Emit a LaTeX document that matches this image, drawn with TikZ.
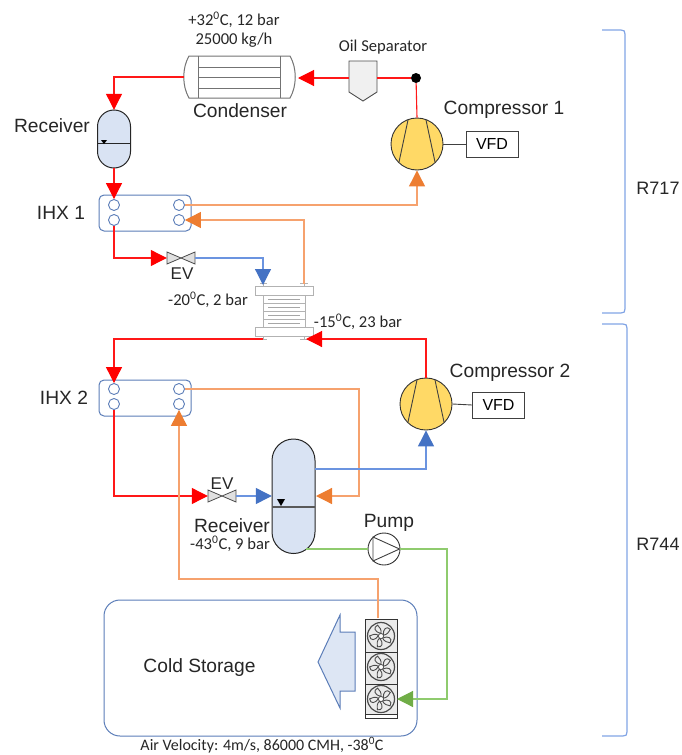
\documentclass[tikz,border=0pt]{standalone}
\usepackage{fontspec}
\setmainfont{Liberation Sans}
\newfontfamily\calfont{Carlito}
\usetikzlibrary{arrows.meta,calc}
\definecolor{redl}{HTML}{FF1818}
\definecolor{orl}{HTML}{F6A26E}
\definecolor{ora}{HTML}{ED7D31}
\definecolor{blul}{HTML}{6B94E0}
\definecolor{blua}{HTML}{4472C4}
\definecolor{grl}{HTML}{8FCB6E}
\definecolor{gra}{HTML}{70AD47}
\definecolor{tank}{HTML}{D9E3F3}
\definecolor{comp}{HTML}{FFD966}
\definecolor{hxb}{HTML}{5B7DB8}
\tikzset{
 x=1pt,y=-1pt,
 redpipe/.style={draw=redl,line width=1.1pt},
 orpipe/.style={draw=orl,line width=1.2pt},
 blupipe/.style={draw=blul,line width=1.2pt},
 grpipe/.style={draw=grl,line width=1.2pt},
 tipred/.style={-{Triangle[length=16pt,width=16pt,color=red]}},
 tipor/.style={-{Triangle[length=16pt,width=16pt,color=ora]}},
 tipblu/.style={-{Triangle[length=16pt,width=16pt,color=blua]}},
 tipgr/.style={-{Triangle[length=16pt,width=16pt,color=gra]}},
 lab/.style={font=\fontsize{19.2}{21}\selectfont,text=black!85,inner sep=0pt},
 small/.style={font=\calfont\fontsize{16.6}{18}\selectfont,text=black!85,inner sep=0pt},
 vfdbox/.style={draw=black!75,line width=0.9pt,fill=white,minimum width=52pt,minimum height=26pt,inner sep=0pt,font=\fontsize{16}{18}\selectfont},
 port/.style={circle,draw=hxb,line width=0.9pt,fill=white,minimum size=11pt,inner sep=0pt},
 ihx/.style={draw=hxb,line width=1pt,rounded corners=5pt,fill=white,minimum width=92pt,minimum height=36pt,inner sep=0pt},
 compbody/.style={circle,draw=black!80,line width=0.9pt,fill=comp,minimum size=52pt,inner sep=0pt},
 evbody/.style={draw=black!70,fill=black!12,line width=0.8pt},
 tankbody/.style={draw=black!85,line width=1pt,fill=tank},
 bracket/.style={draw=blul!85,line width=1.2pt},
}
\newcommand{\compblades}[1]{%
 \draw[black!75,line width=0.9pt] ($(#1)+(-9,-24)$) -- ($(#1)+(-18,18)$) ($(#1)+(9,-24)$) -- ($(#1)+(18,18)$);}
\newcommand{\fanicon}[2]{%
 \begin{scope}[shift={(#1,#2)}]
 \draw[black!70,line width=1.2pt] (0,0) circle (13.5);
 \foreach \a in {20,92,164,236,308}{
  \draw[black!70,line width=0.9pt,rotate=\a] (2.5,0) .. controls (4,-6) and (9,-8) .. (11,-3) .. controls (9,-1) and (6,1) .. (2.5,0);
 }
 \draw[black!70,line width=0.8pt,fill=white] (0,0) circle (2.6);
 \end{scope}}
\begin{document}
\begin{tikzpicture}
\useasboundingbox (0,0) rectangle (681,755);
% Cold storage
\node[draw=hxb,line width=1pt,rounded corners=16pt,minimum width=313pt,minimum height=136pt,inner sep=0pt] (store) at (260.5,668) {};
\node[lab] (storelab) at (199.5,667.5) {Cold Storage};
\draw[draw=hxb,fill=blua!18,line width=1pt] (318,662) -- (340,615) -- (340,632) -- (355,632) -- (355,691) -- (340,691) -- (340,708) -- cycle;
% fan bank
\node[draw=black!80,line width=1pt,fill=white,minimum width=32pt,minimum height=99pt,inner sep=0pt] (fans) at (381,668.5) {};
\fill[black!8] (365.5,619.5) rectangle (396.5,714);
\draw[black!80,line width=1pt] (365,652) -- (397,652) (365,684) -- (397,684) (365,714) -- (397,714);
\fanicon{381}{636}\fanicon{381}{667}\fanicon{381}{699}
\coordinate (fantop) at (378,618);
\coordinate (fanin) at (397,699);
% Condenser
\node[minimum width=111pt,minimum height=42pt,inner sep=0pt] (cond) at (239.5,77) {};
\draw[black!55,line width=1pt,fill=white] (189,56) -- (290,56) .. controls (297,68) and (297,86) .. (290,98) -- (189,98) .. controls (182,86) and (182,68) .. (189,56) -- cycle;
\draw[black!55,line width=1pt] (198,56) -- (198,98) (280,56) -- (280,98) (198,67) -- (280,67) (198,77) -- (280,77) (198,88) -- (280,88);
% Oil separator
\node[minimum width=28pt,minimum height=40pt,inner sep=0pt] (oil) at (363,81) {};
\draw[black!70,line width=0.9pt,fill=black!6] (349,61) -- (377,61) -- (377,92) -- (363,101) -- (349,92) -- cycle;
\coordinate (oilw) at (349,78);
\coordinate (oile) at (377,78);
\node[circle,fill=black,minimum size=10pt,inner sep=0pt] (dot) at (416,78) {};
% Compressor 1
\node[compbody] (c1) at (417,144) {};
\compblades{c1}
\node[vfdbox] (v1) at (492,144) {VFD};
\draw[black!75,line width=0.9pt] (c1.east) -- (v1.west);
% Receiver 1
\node[minimum width=33pt,minimum height=58pt,inner sep=0pt] (r1) at (114,139) {};
\draw[tankbody] (97.5,126.5) arc (180:360:16.5) -- (130.5,151.5) arc (0:180:16.5) -- cycle;
\draw[black!85,line width=0.9pt] (97.5,143) -- (130.5,143);
\fill[black] (101,140) -- (107,140) -- (104,144) -- cycle;
% IHX 1
\node[ihx] (h1) at (145,213) {};
\node[port] (h1a) at (114,205) {};
\node[port] (h1b) at (114,220) {};
\node[port] (h1c) at (179,205) {};
\node[port] (h1d) at (179,220) {};
% Valve 1
\node[minimum width=28pt,minimum height=12pt,inner sep=0pt] (ev1) at (181,258) {};
\draw[evbody] (167,252) -- (195,264) -- (195,252) -- (167,264) -- cycle;
% Plate HX
\node[minimum width=58pt,minimum height=50pt,inner sep=0pt] (phx) at (284,311) {};
\draw[black!30,line width=1pt,fill=white] (263,295) rectangle (305,327);
\draw[black!30,line width=0.8pt] (263,303) -- (305,303) (263,311) -- (305,311) (263,319) -- (305,319);
\draw[black!35,line width=1pt] (268,299) -- (300,299) (268,307) -- (300,307) (268,315) -- (300,315) (268,323) -- (300,323);
\draw[black!30,line width=1pt,fill=white] (255,286) rectangle (313,295);
\draw[black!30,line width=1pt,fill=white] (255,327) rectangle (313,336);
\draw[black!30,line width=1pt] (260,283) -- (267,283) (300,283) -- (308,283) (260,339) -- (267,339) (300,339) -- (308,339);
\draw[black!30,line width=1pt] (263,283) -- (263,286) (304,283) -- (304,286) (263,336) -- (263,339) (304,336) -- (304,339);
\coordinate (phxa) at (263,285);
\coordinate (phxb) at (304,284);
\coordinate (phxc) at (306,339);
\coordinate (phxd) at (263,339);
% Compressor 2
\node[compbody] (c2) at (426,404) {};
\compblades{c2}
\node[vfdbox] (v2) at (498.5,405) {VFD};
\draw[black!75,line width=0.9pt] (c2.east) -- (v2.west);
% IHX 2
\node[ihx] (h2) at (145,398) {};
\node[port] (h2a) at (114,389) {};
\node[port] (h2b) at (114,404) {};
\node[port] (h2c) at (179,389) {};
\node[port] (h2d) at (179,404) {};
% Valve 2
\node[minimum width=28pt,minimum height=12pt,inner sep=0pt] (ev2) at (222,496) {};
\draw[evbody] (208,490) -- (236,502) -- (236,490) -- (208,502) -- cycle;
% Receiver 2
\node[minimum width=43pt,minimum height=115pt,inner sep=0pt] (r2) at (293.5,496) {};
\draw[tankbody] (272,460.5) arc (180:360:21.5) -- (315,532) arc (0:180:21.5) -- cycle;
\draw[black!65,line width=1.3pt] (272,507) -- (315,507);
\fill[black] (277,499) -- (285,499) -- (281,506) -- cycle;
\coordinate (r2blue) at (315,469);
\coordinate (r2or) at (316,496);
\coordinate (r2gr) at (306,549);
% Pump
\node[circle,draw=black!80,line width=0.9pt,fill=white,minimum size=32pt,inner sep=0pt] (pump) at (384,549) {};
\draw[black!75,line width=0.9pt] (373,537) -- (399.5,549) -- (373,561) -- cycle;
% Connectors
\draw[redpipe] (oile) -- (dot);
\draw[redpipe] (c1.north) -- (dot);
\draw[redpipe,tipred] (oilw) -- (298,78);
\draw[redpipe,tipred] (cond.west) -- ++(-3,0) -| (r1.north);
\draw[redpipe,tipred] (r1.south) -- (h1a.north);
\draw[redpipe,tipred] (h1b.south) |- (ev1.west);
\draw[blupipe,tipblu] (ev1.east) -| (phxa);
\draw[orpipe,tipor] (h1c.east) -| (c1.south);
\draw[orpipe,tipor] (phxb) |- (h1d.east);
\draw[redpipe,tipred] (c2.north) |- (phxc);
\draw[redpipe,tipred] (phxd) -| (h2a.north);
\draw[redpipe,tipred] (h2b.south) |- (ev2.west);
\draw[blupipe,tipblu] (ev2.east) -- (r2.west);
\draw[orpipe,tipor] (h2c.east) -- (359,389) -- (359,496) -- (r2or);
\draw[blupipe,tipblu] (r2blue) -| (c2.south);
\draw[orpipe,tipor] (fantop) -- (378,579) -| (h2d.south);
\draw[grpipe] (r2gr) -- (pump.west);
\draw[grpipe,tipgr] (pump.east) -- (447,549) |- (fanin);
% Brackets
\coordinate (b1a) at (602,30);
\coordinate (b1b) at (602,313);
\coordinate (b2a) at (602,324);
\coordinate (b2b) at (602,736);
\draw[bracket] (b1a) -- (621,30) .. controls (624,30) and (625,31) .. (625,34) -- (625,309) .. controls (625,312) and (624,313) .. (621,313) -- (b1b);
\draw[bracket] (b2a) -- (623,324) .. controls (626,324) and (627,325) .. (627,328) -- (627,732) .. controls (627,735) and (626,736) .. (623,736) -- (b2b);
% Labels
\node[small] (t1) at (234,20) {+32\textsuperscript{0}C, 12 bar};
\node[small] (t2) at (234,40) {25000 kg/h};
\node[lab] (t3) at (240,111) {Condenser};
\node[small] (t4) at (383,47) {Oil Separator};
\node[lab] (t5) at (504,109.5) {Compressor 1};
\node[lab] (t6) at (52,125.5) {Receiver};
\node[lab] (t7) at (61,213) {IHX 1};
\node[lab,font=\fontsize{17}{19}\selectfont] (t8) at (182,274) {EV};
\node[small] (t9) at (208,300) {-20\textsuperscript{0}C, 2 bar};
\node[small] (t10) at (358,322) {-15\textsuperscript{0}C, 23 bar};
\node[lab] (t11) at (510,372.5) {Compressor 2};
\node[lab] (t12) at (64,398) {IHX 2};
\node[lab,font=\fontsize{17}{19}\selectfont] (t13) at (222,484) {EV};
\node[lab] (t14) at (232,525.5) {Receiver};
\node[small] (t15) at (230,544) {-43\textsuperscript{0}C, 9 bar};
\node[lab] (t16) at (389,523) {Pump};
\node[small,font=\calfont\fontsize{16}{18}\selectfont] (t17) at (262,745.5) {Air Velocity: 4m/s, 86000 CMH, -38\textsuperscript{0}C};
\node[lab,font=\fontsize{18}{20}\selectfont] (t18) at (658,188) {R717};
\node[lab,font=\fontsize{18}{20}\selectfont] (t19) at (658,544) {R744};
\end{tikzpicture}
\end{document}
